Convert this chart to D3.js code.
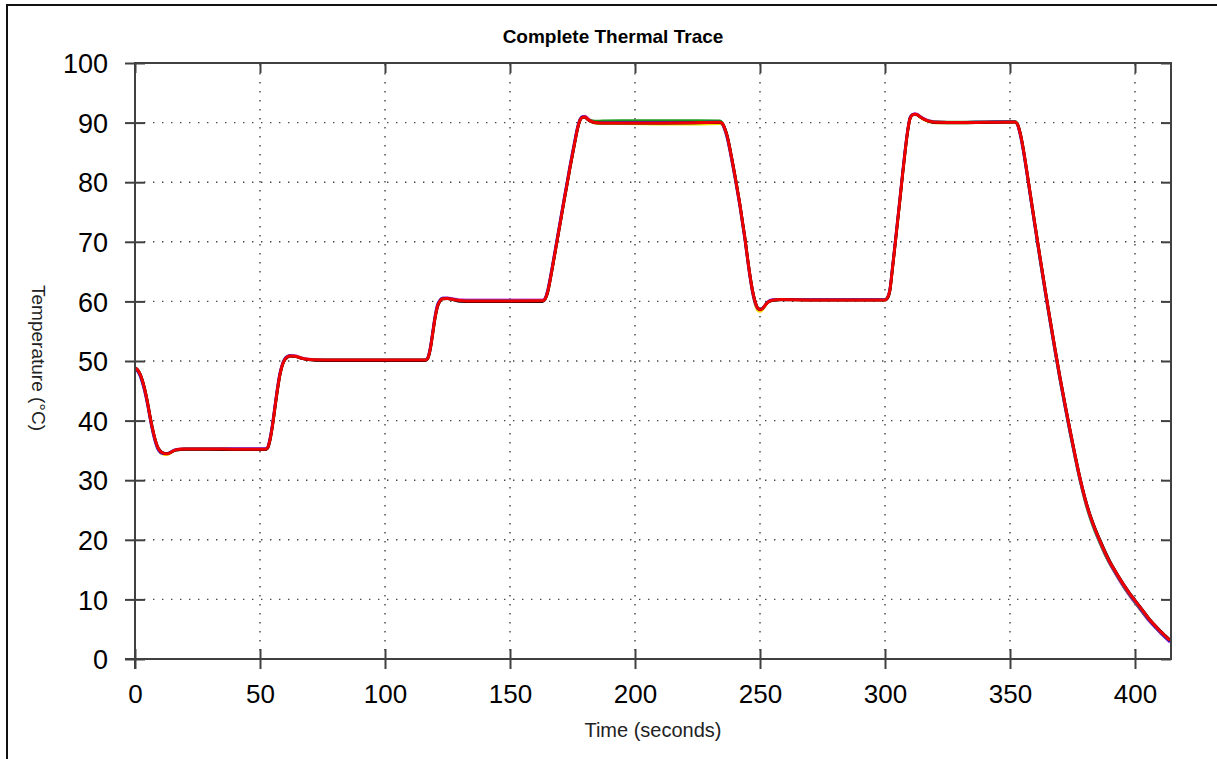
<!DOCTYPE html>
<html>
<head>
<meta charset="utf-8">
<script src="https://cdn.jsdelivr.net/npm/d3@7"></script>
<style>
html,body{margin:0;padding:0;background:#fff;}
svg{display:block;font-family:Arial,"Liberation Sans",sans-serif;}
</style>
</head>
<body>
<svg id="chart" width="1217" height="759"></svg>
<script>
// ---------- data ----------
const titleText = "Complete Thermal Trace";
const xLabel = "Time (seconds)";
const yLabel = "Temperature (°C)";
const xTicks = [0, 50, 100, 150, 200, 250, 300, 350, 400];
const yTicks = [0, 10, 20, 30, 40, 50, 60, 70, 80, 90, 100];
const xMax = 414.4;

const times = [0,1,2,3,4,5,6,7,8,9,
10,11,12,13,14,15,16,18,20,30,
40,52,53,54,55,56,57,58,59,60,
61,62,64,66,68,72,80,100,116,117,
118,119,120,121,122,123,125,127,130,135,
150,163,164,165,166,167,168,169,170,171,
172,173,174,175,176,177,178,179,180,181,
182,184,187,195,210,225,234,235,236,237,
238,239,240,241,242,243,244,245,246,247,
248,249,250,251,252,253,255,258,270,285,
300,301,302,303,304,305,306,307,308,309,
310,311,312,313,314,316,318,320,330,340,
352,353,354,355,356,358,360,362,364,366,
368,370,372,374,376,378,380,382,384,386,
388,390,392,394,396,398,400,402,404,406,
408,410,412,414];

const magentaT = [48.8,48.5,47.8,46.6,45.0,43.0,40.7,38.6,36.9,35.6,
34.9,34.6,34.45,34.45,34.6,34.85,35.05,35.25,35.3,35.3,
35.3,35.3,35.5,36.9,39.3,42.4,45.4,47.9,49.5,50.4,
50.8,50.95,50.9,50.65,50.4,50.25,50.2,50.2,50.2,50.45,
51.9,54.5,57.3,59.3,60.2,60.55,60.6,60.5,60.3,60.25,
60.25,60.25,60.5,61.6,63.6,65.9,68.3,70.7,73.1,75.5,
77.9,80.2,82.6,84.8,87.0,89.1,90.5,91.0,91.1,90.8,
90.45,90.15,90.1,90.1,90.1,90.1,90.15,89.85,88.9,87.5,
85.5,83.3,81.0,78.6,76.1,73.3,70.5,67.3,64.3,61.8,
60.0,58.9,58.6,58.85,59.35,59.9,60.3,60.35,60.3,60.3,
60.3,60.6,62.0,65.6,69.4,73.3,77.2,81.2,85.0,88.4,
90.7,91.35,91.5,91.4,91.1,90.6,90.3,90.15,90.05,90.1,
90.1,89.7,88.3,86.3,83.8,78.3,72.8,67.4,62.1,57.0,
52.0,47.2,42.7,38.4,34.2,30.3,26.9,24.0,21.6,19.5,
17.6,15.9,14.4,13.0,11.7,10.5,9.4,8.3,7.2,6.2,
5.3,4.4,3.6,2.8];

const greenT = [48.8,48.4,47.7,46.5,44.9,42.9,40.6,38.5,36.8,35.5,
34.85,34.55,34.45,34.45,34.6,34.85,35.05,35.2,35.25,35.25,
35.2,35.2,35.4,36.8,39.2,42.3,45.3,47.8,49.4,50.3,
50.7,50.85,50.8,50.55,50.35,50.2,50.2,50.2,50.2,50.45,
51.8,54.4,57.2,59.2,60.1,60.45,60.5,60.35,60.15,60.1,
60.1,60.1,60.4,61.5,63.5,65.8,68.2,70.6,73.0,75.4,
77.8,80.1,82.5,84.7,86.9,89.0,90.4,90.9,90.95,90.65,
90.4,90.25,90.3,90.35,90.35,90.35,90.3,89.9,88.9,87.5,
85.5,83.3,81.0,78.6,76.1,73.3,70.5,67.3,64.3,61.8,
60.0,58.9,58.6,58.8,59.3,59.8,60.2,60.3,60.3,60.3,
60.3,60.6,62.0,65.6,69.4,73.3,77.2,81.2,85.0,88.4,
90.7,91.3,91.4,91.3,91.0,90.5,90.25,90.15,90.1,90.15,
90.2,89.7,88.3,86.2,83.6,78.0,72.5,67.0,61.7,56.6,
51.6,46.8,42.3,37.9,33.8,29.9,26.5,23.7,21.4,19.4,
17.5,15.9,14.5,13.1,11.8,10.6,9.5,8.4,7.3,6.3,
5.4,4.5,3.7,3.0];

const yellowT = [48.8,48.5,47.8,46.6,45.0,43.0,40.7,38.6,36.8,35.5,
34.7,34.4,34.25,34.3,34.5,34.8,35.0,35.2,35.25,35.25,
35.2,35.2,35.4,36.8,39.2,42.3,45.3,47.8,49.4,50.3,
50.7,50.85,50.8,50.55,50.35,50.2,50.15,50.15,50.15,50.4,
51.8,54.4,57.2,59.2,60.1,60.45,60.5,60.35,60.15,60.05,
60.05,60.1,60.4,61.5,63.5,65.8,68.2,70.6,73.0,75.4,
77.8,80.1,82.5,84.7,86.9,89.0,90.4,90.9,90.9,90.5,
90.2,89.9,89.85,89.8,89.75,89.75,89.8,89.6,88.7,87.3,
85.3,83.1,80.8,78.4,75.9,73.1,70.3,67.1,64.1,61.5,
59.6,58.5,58.3,58.6,59.2,59.75,60.2,60.3,60.25,60.25,
60.25,60.6,62.0,65.6,69.4,73.3,77.2,81.2,85.0,88.4,
90.7,91.3,91.4,91.25,90.9,90.4,90.1,89.95,89.95,90.0,
90.05,89.7,88.3,86.3,83.8,78.3,72.8,67.4,62.0,56.8,
51.8,47.0,42.5,38.2,34.0,30.1,26.7,23.9,21.6,19.6,
17.7,16.0,14.6,13.2,11.9,10.7,9.6,8.5,7.4,6.4,
5.5,4.6,3.8,3.0];

const blueT = [48.7,48.3,47.5,46.2,44.6,42.6,40.3,38.2,36.5,35.3,
34.7,34.5,34.45,34.5,34.65,34.9,35.1,35.2,35.25,35.25,
35.25,35.25,35.5,37.1,39.6,42.7,45.7,48.1,49.6,50.45,
50.8,50.9,50.8,50.55,50.35,50.2,50.15,50.15,50.15,50.5,
52.1,54.8,57.6,59.5,60.25,60.55,60.55,60.4,60.15,60.1,
60.1,60.1,60.5,61.8,63.9,66.2,68.6,71.0,73.4,75.8,
78.2,80.5,82.9,85.1,87.3,89.3,90.6,91.0,90.95,90.55,
90.25,90.05,90.0,90.05,90.05,90.05,90.1,89.7,88.6,87.1,
85.1,82.9,80.6,78.2,75.7,72.9,70.1,66.9,63.9,61.4,
59.7,58.8,58.6,58.85,59.35,59.85,60.25,60.3,60.3,60.3,
60.3,60.7,62.3,66.0,69.8,73.7,77.6,81.6,85.4,88.7,
90.9,91.4,91.45,91.3,91.0,90.5,90.2,90.1,90.05,90.1,
90.15,89.6,88.0,85.9,83.4,77.9,72.4,67.0,61.7,56.6,
51.6,46.8,42.3,38.0,33.9,30.0,26.7,23.9,21.6,19.6,
17.7,16.0,14.6,13.2,11.9,10.7,9.6,8.5,7.4,6.3,
5.4,4.5,3.7,2.9];

const blackT = [48.9,48.6,47.9,46.8,45.2,43.2,40.9,38.8,37.0,35.7,
35.0,34.65,34.5,34.5,34.6,34.8,35.0,35.1,35.15,35.15,
35.1,35.1,35.3,36.6,39.0,42.0,45.0,47.6,49.3,50.2,
50.6,50.8,50.75,50.5,50.3,50.1,50.05,50.05,50.05,50.3,
51.6,54.2,57.0,59.0,60.0,60.4,60.45,60.3,60.0,59.95,
59.95,59.95,60.3,61.3,63.3,65.6,68.0,70.4,72.8,75.2,
77.6,79.9,82.3,84.5,86.7,88.8,90.3,90.85,90.9,90.55,
90.25,89.95,89.9,89.9,89.9,89.95,90.0,89.85,89.0,87.7,
85.7,83.5,81.2,78.8,76.3,73.5,70.7,67.5,64.5,62.0,
60.1,59.0,58.65,58.8,59.3,59.8,60.15,60.25,60.2,60.2,
60.2,60.5,61.8,65.4,69.2,73.1,77.0,81.0,84.8,88.2,
90.6,91.25,91.35,91.25,90.95,90.45,90.15,90.0,89.95,90.0,
90.05,89.75,88.5,86.5,84.0,78.5,73.0,67.6,62.3,57.2,
52.2,47.4,42.9,38.6,34.4,30.5,27.1,24.3,22.0,20.0,
18.1,16.4,14.9,13.5,12.2,11.0,9.9,8.8,7.7,6.6,
5.7,4.8,4.0,3.2];

const redT = [48.8,48.5,47.8,46.6,45.0,43.0,40.7,38.6,36.9,35.6,
34.9,34.6,34.45,34.45,34.6,34.85,35.05,35.2,35.25,35.25,
35.2,35.2,35.4,36.8,39.2,42.3,45.3,47.8,49.4,50.3,
50.7,50.85,50.8,50.55,50.35,50.2,50.15,50.15,50.15,50.4,
51.8,54.4,57.2,59.2,60.1,60.45,60.5,60.35,60.15,60.05,
60.05,60.1,60.4,61.5,63.5,65.8,68.2,70.6,73.0,75.4,
77.8,80.1,82.5,84.7,86.9,89.0,90.4,90.9,90.95,90.6,
90.3,90.0,89.95,89.95,89.95,90.0,90.05,89.8,88.9,87.5,
85.5,83.3,81.0,78.6,76.1,73.3,70.5,67.3,64.3,61.8,
60.0,58.9,58.6,58.8,59.3,59.8,60.2,60.3,60.25,60.25,
60.25,60.6,62.0,65.6,69.4,73.3,77.2,81.2,85.0,88.4,
90.7,91.3,91.4,91.3,91.0,90.5,90.2,90.05,90.0,90.05,
90.1,89.7,88.3,86.3,83.8,78.3,72.8,67.4,62.1,57.0,
52.0,47.2,42.7,38.4,34.2,30.3,26.9,24.1,21.8,19.8,
17.9,16.2,14.8,13.4,12.1,10.9,9.8,8.7,7.6,6.5,
5.6,4.7,3.9,3.1];

const seriesNames = ["magenta", "green", "yellow", "blue", "black", "red"];
const seriesValues = [magentaT, greenT, yellowT, blueT, blackT, redT];
const seriesColors = ["#e040e0", "#1a9a1a", "#f0e000", "#1a1aee", "#000000", "#ee0000"];

// ---------- layout ----------
const svg = d3.select("#chart");
const m = {left: 135, right: 1171, top: 63, bottom: 659};

const x = d3.scaleLinear().domain([0, xMax]).range([m.left, m.right]);
const y = d3.scaleLinear().domain([0, 100]).range([m.bottom, m.top]);

// outer frame
svg.append("rect").attr("x", 7).attr("y", 5).attr("width", 1230).attr("height", 780)
  .attr("fill", "none").attr("stroke", "#111").attr("stroke-width", 2);

// grid
const grid = svg.append("g").attr("stroke", "#444").attr("stroke-width", 1.4)
  .attr("stroke-dasharray", "1.4 7.6").attr("fill", "none");
grid.selectAll("line.gy").data(yTicks.filter(d => d > 0)).join("line")
  .attr("x1", m.left + 9).attr("x2", m.right).attr("y1", d => y(d)).attr("y2", d => y(d));
grid.selectAll("line.gx").data(xTicks.filter(d => d > 0)).join("line")
  .attr("x1", d => x(d)).attr("x2", d => x(d)).attr("y1", m.top + 1).attr("y2", m.bottom);

// clip
svg.append("clipPath").attr("id", "clip").append("rect")
  .attr("x", m.left).attr("y", m.top).attr("width", m.right - m.left).attr("height", m.bottom - m.top);

const line = d3.line().x(d => x(d[0])).y(d => y(d[1])).curve(d3.curveMonotoneX);
const lines = svg.append("g").attr("clip-path", "url(#clip)");
seriesValues.forEach((vals, i) => {
  const pts = d3.zip(times, vals);
  lines.append("path").datum(pts)
    .attr("d", line)
    .attr("fill", "none")
    .attr("stroke", seriesColors[i])
    .attr("stroke-width", seriesNames[i] === "red" ? 3 : 2.6)
    .attr("stroke-linejoin", "round");
});

// axes box
const axisColor = "#404040";
svg.append("rect").attr("x", m.left).attr("y", m.top)
  .attr("width", m.right - m.left).attr("height", m.bottom - m.top)
  .attr("fill", "none").attr("stroke", axisColor).attr("stroke-width", 2);

// left axis
const yAxisL = d3.axisLeft(y).tickValues(yTicks).tickSizeInner(10).tickSizeOuter(0).tickPadding(17);
const gL = svg.append("g").attr("transform", `translate(${m.left},0)`).call(yAxisL);
gL.select(".domain").remove();
gL.selectAll(".tick line").attr("x2", -10).attr("x1", 10).attr("stroke", axisColor).attr("stroke-width", 2);
gL.selectAll(".tick text").attr("font-size", 27).attr("fill", "#000")
  .attr("font-family", "Arial, 'Liberation Sans', sans-serif").attr("dy", "0.36em");

// right axis ticks (inside)
const yAxisR = d3.axisLeft(y).tickValues(yTicks).tickSizeInner(10).tickSizeOuter(0).tickFormat("");
const gR = svg.append("g").attr("transform", `translate(${m.right},0)`).call(yAxisR);
gR.select(".domain").remove();
gR.selectAll(".tick line").attr("stroke", axisColor).attr("stroke-width", 2);

// bottom axis
const xAxisB = d3.axisBottom(x).tickValues(xTicks).tickSizeInner(10).tickSizeOuter(0).tickPadding(16);
const gB = svg.append("g").attr("transform", `translate(0,${m.bottom})`).call(xAxisB);
gB.select(".domain").remove();
gB.selectAll(".tick line").attr("y1", -10).attr("y2", 10).attr("stroke", axisColor).attr("stroke-width", 2);
gB.selectAll(".tick text").attr("font-size", 26).attr("fill", "#000")
  .attr("font-family", "Arial, 'Liberation Sans', sans-serif");

// top axis ticks (inside)
const xAxisT = d3.axisBottom(x).tickValues(xTicks).tickSizeInner(10).tickSizeOuter(0).tickFormat("");
const gT = svg.append("g").attr("transform", `translate(0,${m.top})`).call(xAxisT);
gT.select(".domain").remove();
gT.selectAll(".tick line").attr("stroke", axisColor).attr("stroke-width", 2);

// extend axis corners
svg.append("line").attr("x1", m.left - 10).attr("x2", m.left).attr("y1", m.bottom).attr("y2", m.bottom)
  .attr("stroke", axisColor).attr("stroke-width", 2);
svg.append("line").attr("x1", m.left).attr("x2", m.left).attr("y1", m.bottom).attr("y2", m.bottom + 10)
  .attr("stroke", axisColor).attr("stroke-width", 2);

// title
svg.append("text").attr("x", 613).attr("y", 43).attr("text-anchor", "middle")
  .attr("font-size", 19).attr("font-weight", "bold").attr("fill", "#000").text(titleText);

// x label
svg.append("text").attr("x", (m.left + m.right) / 2).attr("y", 737).attr("text-anchor", "middle")
  .attr("font-size", 20).attr("fill", "#222").text(xLabel);

// y label
svg.append("text").attr("transform", `translate(32,358) rotate(90)`).attr("text-anchor", "middle")
  .attr("font-size", 19).attr("fill", "#222").text(yLabel);
</script>
</body>
</html>
